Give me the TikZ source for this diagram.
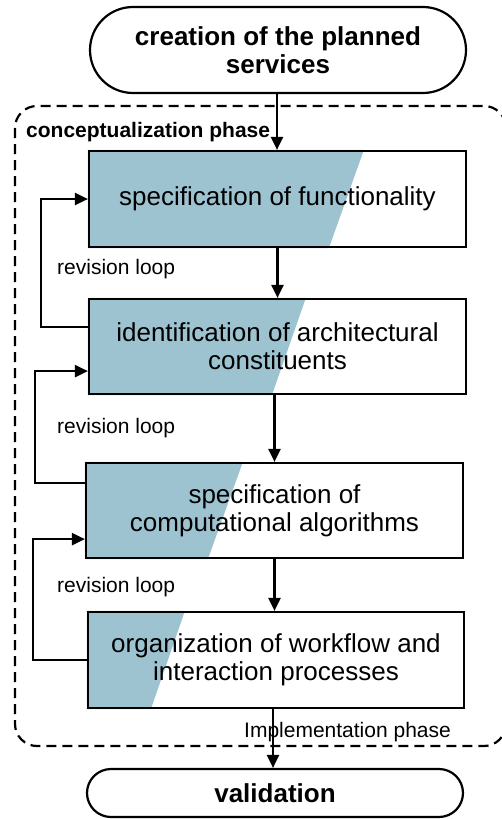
\documentclass[tikz,border=0pt]{standalone}
\usepackage{fontspec}
\setmainfont{Liberation Sans}
\usetikzlibrary{arrows.meta,backgrounds,calc}
\definecolor{slantfill}{RGB}{157,195,209}
\tikzset{
  arr/.style={line width=2.2pt,-{Triangle[length=13pt,width=12pt]}},
  stepbox/.style={draw,line width=2.2pt,minimum width=377pt,align=center,inner sep=0pt,
     font=\fontsize{26}{28}\selectfont},
  terminal/.style={draw,line width=2.2pt,minimum width=376pt,rounded corners=#1,align=center,inner sep=0pt,
     font=\fontsize{26}{28}\selectfont\bfseries},
  loopl/.style={anchor=base west,inner sep=0pt,font=\fontsize{21}{24}\selectfont},
}
\begin{document}
\begin{tikzpicture}[x=1pt,y=-1pt]
\useasboundingbox (0,0) rectangle (502,819);
% dashed phase frame
\draw[line width=2.2pt,dash pattern=on 10pt off 6pt,rounded corners=22pt] (15,106) rectangle (506,746);
\node[anchor=base west,inner sep=0pt,font=\fontsize{21}{24}\selectfont\bfseries] (cph) at (26,137) {conceptualization phase};
\node[anchor=base west,inner sep=0pt,font=\fontsize{21}{24}\selectfont] (iph) at (244,737) {Implementation phase};
% terminals
\node[terminal=43pt,minimum height=86pt] (top) at (278,50) {creation of the planned\\services};
\node[terminal=24pt,minimum height=48pt] (val) at (275,793) {validation};
% boxes
\node[stepbox,minimum height=96pt] (b1) at (277.5,199) {specification of functionality};
\node[stepbox,minimum height=95pt] (b2) at (277.5,346.5) {identification of architectural\\constituents};
\node[stepbox,minimum height=95pt] (b3) at (274.5,510.5) {specification of\\computational algorithms};
\node[stepbox,minimum height=96pt,minimum width=376pt] (b4) at (276,660) {organization of workflow and\\interaction processes};
% slanted fills
\begin{scope}[on background layer]
\fill[slantfill] (b1.north west) -- ([xshift=276pt]b1.north west) -- ([xshift=241pt]b1.south west) -- (b1.south west) -- cycle;
\fill[slantfill] (b2.north west) -- ([xshift=218pt]b2.north west) -- ([xshift=184pt]b2.south west) -- (b2.south west) -- cycle;
\fill[slantfill] (b3.north west) -- ([xshift=158pt]b3.north west) -- ([xshift=123pt]b3.south west) -- (b3.south west) -- cycle;
\fill[slantfill] (b4.north west) -- ([xshift=98pt]b4.north west) -- ([xshift=64pt]b4.south west) -- (b4.south west) -- cycle;
\end{scope}
% main flow
\draw[arr] (top.south -| 277,0) -- (b1.north -| 277,0);
\draw[arr] (b1.south) -- (b2.north);
\draw[arr] (b2.south -| b3.north) -- (b3.north);
\draw[arr] (b3.south) -- (b3.south |- b4.north);
\draw[arr] (b4.south -| 273,0) -- (val.north -| 273,0);
% revision loops
\draw[arr] ([yshift=-29pt]b2.north west) -- ++(-47pt,0) |- (b1.west);
\draw[arr] ([yshift=-21pt]b3.north west) -- ++(-50pt,0) |- ([yshift=24pt]b2.south west);
\draw[arr] (b4.west) -- ++(-54pt,0) |- ([yshift=20pt]b3.south west);
\node[loopl] (l1) at (57,274) {revision loop};
\node[loopl] (l2) at (57,433) {revision loop};
\node[loopl] (l3) at (57,592) {revision loop};
\end{tikzpicture}
\end{document}
